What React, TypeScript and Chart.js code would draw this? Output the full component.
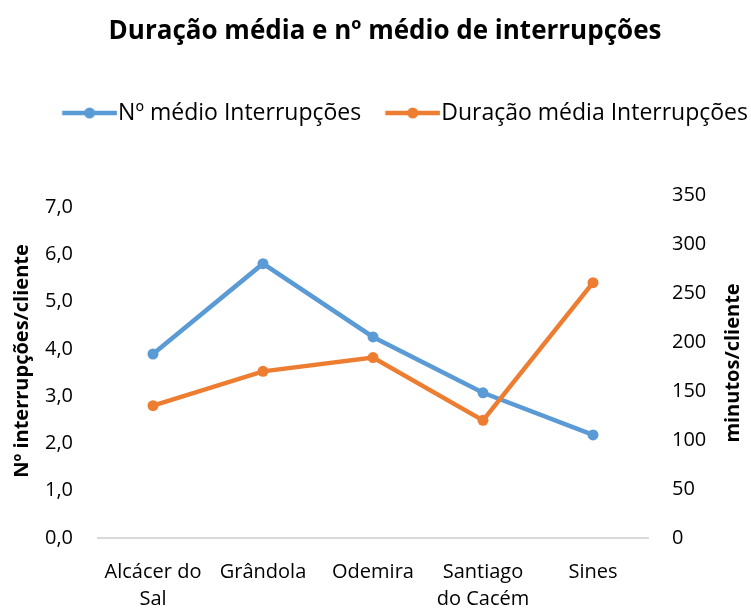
import React, { useEffect, useRef } from "react";
import { Chart, registerables } from "chart.js";

Chart.register(...registerables);

// ---- data ----
const chartTitle = "Duração média e nº médio de interrupções";
const categories: string[][] = [
  ["Alcácer do", "Sal"],
  ["Grândola"],
  ["Odemira"],
  ["Santiago", "do Cacém"],
  ["Sines"],
];
const seriesLabels = ["Nº médio Interrupções", "Duração média Interrupções"];
const avgInterruptions = [3.89, 5.8, 4.25, 3.07, 2.18];
const avgDurationMinutes = [135, 170, 184, 120, 260.5];
const leftTicks = [0, 1, 2, 3, 4, 5, 6, 7];
const rightTicks = [0, 50, 100, 150, 200, 250, 300, 350];
const leftAxisTitle = "Nº interrupções/cliente";
const rightAxisTitle = "minutos/cliente";

// ---- style ----
const BLUE = "#5B9BD5";
const ORANGE = "#ED7D31";
const FONT = "'Open Sans'";
const LEG_FONT = 23;
const LEG_PAD = 0;
const LEG_LINE_START = 24; // offset of line start from legend box x
const LEG_LINE_LEN = 55;
const LEG_BOX_W = LEG_LINE_START + LEG_LINE_LEN + 1 - LEG_FONT / 2;

function legendImage(color: string): HTMLCanvasElement {
  const c = document.createElement("canvas");
  const half = Math.max(
    Math.abs(LEG_LINE_START - LEG_BOX_W / 2),
    Math.abs(LEG_LINE_START + LEG_LINE_LEN - LEG_BOX_W / 2)
  );
  c.width = Math.round(half * 2);
  c.height = 14;
  const ctx = c.getContext("2d")!;
  const x0 = c.width / 2 + (LEG_LINE_START - LEG_BOX_W / 2);
  ctx.strokeStyle = color;
  ctx.lineWidth = 4.5;
  ctx.beginPath();
  ctx.moveTo(x0, 7);
  ctx.lineTo(x0 + LEG_LINE_LEN, 7);
  ctx.stroke();
  ctx.fillStyle = color;
  ctx.beginPath();
  ctx.arc(x0 + LEG_LINE_LEN / 2, 7, 5.5, 0, Math.PI * 2);
  ctx.fill();
  return c;
}

const axisTitlePlugin = {
  id: "axisTitlesCustom",
  afterDraw(chart: any) {
    const ctx = chart.ctx as CanvasRenderingContext2D;
    const items: [string, number, number][] = [
      [leftAxisTitle, 22.5, 361],
      [rightAxisTitle, 733.5, 363],
    ];
    ctx.save();
    ctx.font = `bold 20px ${FONT}`;
    ctx.fillStyle = "#000";
    ctx.textAlign = "center";
    ctx.textBaseline = "middle";
    items.forEach(([t, x, y]) => {
      ctx.save();
      ctx.translate(x, y);
      ctx.rotate(-Math.PI / 2);
      ctx.fillText(t, 0, 0);
      ctx.restore();
    });
    ctx.restore();
  },
};

export default function App() {
  const ref = useRef<HTMLCanvasElement | null>(null);

  useEffect(() => {
    if (!ref.current) return;
    const images = [legendImage(BLUE), legendImage(ORANGE)];
    const tickFont = { family: FONT, size: 20 };
    const chart = new Chart(ref.current, {
      type: "line",
      data: {
        labels: categories,
        datasets: [
          {
            label: seriesLabels[0],
            data: avgInterruptions,
            yAxisID: "y",
            borderColor: BLUE,
            backgroundColor: BLUE,
            borderWidth: 4.5,
            pointRadius: 5.5,
            pointBackgroundColor: BLUE,
            pointBorderWidth: 0,
            tension: 0,
            order: 1,
          },
          {
            label: seriesLabels[1],
            data: avgDurationMinutes,
            yAxisID: "y1",
            borderColor: ORANGE,
            backgroundColor: ORANGE,
            borderWidth: 4.5,
            pointRadius: 5.5,
            pointBackgroundColor: ORANGE,
            pointBorderWidth: 0,
            tension: 0,
            order: 0,
          },
        ],
      },
      options: {
        responsive: false,
        animation: false,
        layout: { padding: { left: 22, right: 3, top: 0, bottom: 0 } },
        plugins: {
          title: {
            display: true,
            text: chartTitle,
            color: "#000",
            font: { family: FONT, size: 26, weight: "bold" },
            padding: { top: 16.4, bottom: 53.9 },
          },
          legend: {
            display: true,
            position: "top",
            align: "end",
            labels: {
              usePointStyle: true,
              pointStyleWidth: LEG_BOX_W,
              padding: LEG_PAD,
              color: "#000",
              font: { family: FONT, size: LEG_FONT },
              sort: (a: any, b: any) => a.datasetIndex - b.datasetIndex,
              generateLabels: (c: any) =>
                (Chart.defaults.plugins.legend.labels as any)
                  .generateLabels(c)
                  .map((it: any) => ({ ...it, pointStyle: images[it.datasetIndex] })),
            },
          },
          tooltip: { enabled: false },
        },
        scales: {
          x: {
            type: "category",
            offset: true,
            grid: { display: false, drawTicks: false },
            border: { display: true, color: "#D9D9D9", width: 2 },
            ticks: {
              color: "#000",
              font: { ...tickFont, lineHeight: 1.35 },
              padding: 21,
              maxRotation: 0,
              minRotation: 0,
              autoSkip: false,
            },
            afterFit: (s: any) => {
              s.height = 72;
            },
          },
          y: {
            position: "left",
            min: 0,
            max: 8.531,
            grid: { display: false, drawTicks: false },
            border: { display: false },
            ticks: {
              color: "#000",
              font: tickFont,
              padding: 25,
              callback: (v: any) => Number(v).toFixed(1).replace(".", ","),
            },
            afterBuildTicks: (s: any) => {
              s.ticks = leftTicks.map((v) => ({ value: v }));
            },
            afterFit: (s: any) => {
              s.width = 76;
            },
          },
          y1: {
            position: "right",
            min: 0,
            max: 411.6,
            grid: { display: false, drawTicks: false },
            border: { display: false },
            ticks: {
              color: "#000",
              font: tickFont,
              padding: 24,
              callback: (v: any) => String(v),
            },
            afterBuildTicks: (s: any) => {
              s.ticks = rightTicks.map((v) => ({ value: v }));
            },
            afterFit: (s: any) => {
              s.width = 100;
            },
          },
        },
      } as any,
      plugins: [axisTitlePlugin],
    });
    return () => chart.destroy();
  }, []);

  return (
    <div style={{ position: "absolute", left: 0, top: 0, width: 751, height: 610, background: "#fff" }}>
      <canvas ref={ref} width={751} height={610} style={{ display: "block" }} />
    </div>
  );
}
